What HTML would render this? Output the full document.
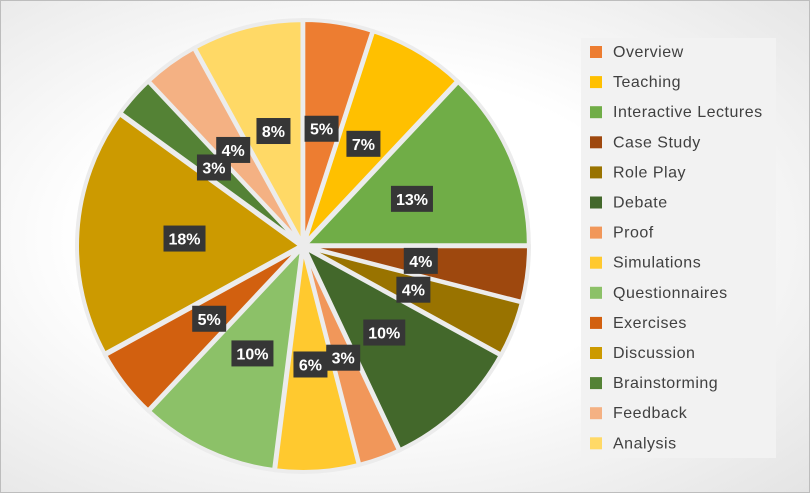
<!DOCTYPE html>
<html><head><meta charset="utf-8"><style>
body{margin:0;width:810px;height:493px;overflow:hidden;font-family:"Liberation Sans",sans-serif}
#wrap{position:absolute;left:0;top:0;width:808px;height:491px;border:1px solid #bdbdbd;background:radial-gradient(ellipse at 45% 48%,#ffffff 0%,#ffffff 45%,#e4e4e4 100%)}
</style></head><body>
<div id="wrap">
<svg id="chart" width="810" height="493"></svg>
</div>
<script>
const categories=["Overview","Teaching","Interactive Lectures","Case Study","Role Play","Debate","Proof","Simulations","Questionnaires","Exercises","Discussion","Brainstorming","Feedback","Analysis"];
const values=[5,7,13,4,4,10,3,6,10,5,18,3,4,8];
const colors=["#ED7D31","#FFC000","#70AD47","#9E480E","#997300","#43682B","#F1975A","#FFC92F","#8CC168","#D2600F","#CC9A00","#548235","#F4B183","#FFD966"];
const NS="http://www.w3.org/2000/svg";
const svg=document.getElementById('chart');
const cx=302,cy=245,R=224;
const total=values.reduce((a,b)=>a+b,0);
function pt(a,r,ox,oy){return [(ox||cx)+r*Math.sin(a),(oy||cy)-r*Math.cos(a)];}
let acc=0;
const labels=[];
values.forEach((v,i)=>{
  const a0=acc/total*2*Math.PI;acc+=v;const a1=acc/total*2*Math.PI;
  const am=(a0+a1)/2;
  const ox=cx+2*Math.sin(am),oy=cy-2*Math.cos(am);
  const p0=pt(a0,R,ox,oy),p1=pt(a1,R,ox,oy);
  const large=(a1-a0)>Math.PI?1:0;
  const p=document.createElementNS(NS,'path');
  p.setAttribute('d',`M${ox},${oy}L${p0[0]},${p0[1]}A${R},${R} 0 ${large} 1 ${p1[0]},${p1[1]}Z`);
  p.setAttribute('fill',colors[i]);p.setAttribute('stroke','#ececec');p.setAttribute('stroke-width','4');
  
  
  svg.appendChild(p);
  labels.push([pt(am,R*0.53),Math.round(v/total*100)+'%',categories[i]]);
});
labels.forEach(([q,t,c])=>{
  const g=document.createElementNS(NS,'g');
  
  
  const w=t.length>2?42:34;
  const r=document.createElementNS(NS,'rect');
  r.setAttribute('x',q[0]-w/2);r.setAttribute('y',q[1]-13);r.setAttribute('width',w);r.setAttribute('height',26);r.setAttribute('fill','#363636');
  const tx=document.createElementNS(NS,'text');
  tx.setAttribute('x',q[0]);tx.setAttribute('y',q[1]+6);tx.setAttribute('text-anchor','middle');
  tx.setAttribute('fill','#fff');tx.setAttribute('font-size','16');tx.setAttribute('font-weight','bold');
  tx.textContent=t;
  g.appendChild(r);g.appendChild(tx);svg.appendChild(g);
});
const lg=document.createElementNS(NS,'g');

const bg=document.createElementNS(NS,'rect');
bg.setAttribute('x',580);bg.setAttribute('y',37);bg.setAttribute('width',195);bg.setAttribute('height',420);bg.setAttribute('fill','#f2f2f2');
lg.appendChild(bg);
categories.forEach((c,i)=>{
  const y=51+i*30.1;
  const e=document.createElementNS(NS,'g');
  
  const s=document.createElementNS(NS,'rect');
  s.setAttribute('x',589);s.setAttribute('y',y-6);s.setAttribute('width',12);s.setAttribute('height',12);s.setAttribute('fill',colors[i]);
  const t=document.createElementNS(NS,'text');
  t.setAttribute('x',612);t.setAttribute('y',y+5);t.setAttribute('font-size','16');t.setAttribute('letter-spacing','0.5');t.setAttribute('fill','#404040');
  t.textContent=c;
  e.appendChild(s);e.appendChild(t);lg.appendChild(e);
});
svg.appendChild(lg);
</script>
</body></html>
